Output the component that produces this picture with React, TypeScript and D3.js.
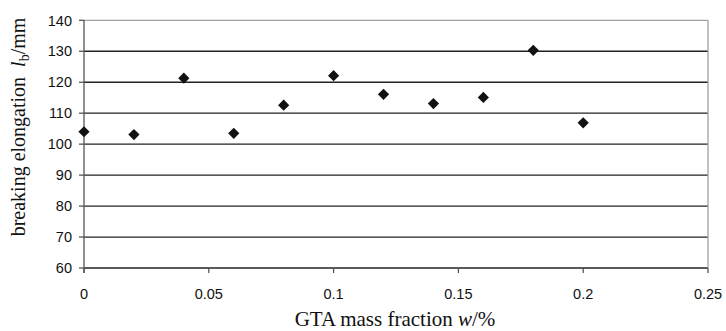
import React from "react";
import * as d3 from "d3";

const xValues = [0, 0.02, 0.04, 0.06, 0.08, 0.1, 0.12, 0.14, 0.16, 0.18, 0.2];
const yValues = [104, 103.1, 121.3, 103.5, 112.6, 122.1, 116.1, 113.1, 115.1, 130.3, 106.9];
const xTicks = [0, 0.05, 0.1, 0.15, 0.2, 0.25];
const yTicks = [60, 70, 80, 90, 100, 110, 120, 130, 140];

export default function App() {
  const W = 726, H = 331;
  const left = 84, right = 708, top = 20.3, bottom = 268;
  const x = d3.scaleLinear().domain([0, 0.25]).range([left, right]);
  const y = d3.scaleLinear().domain([60, 140]).range([bottom, top]);
  const r = 5.6;
  const diamond = `M0,${-r}L${r},0L0,${r}L${-r},0Z`;
  const tickFont = "'Liberation Sans', Arial, sans-serif";
  const titleFont = "'Liberation Serif', 'Times New Roman', serif";
  const fmt = (v: number) => String(v);
  return (
    <svg width={W} height={H} style={{ position: "absolute", left: 0, top: 0, background: "#fff" }}>
      {yTicks.map((t) => (
        <g key={"y" + t}>
          <line x1={left} x2={right} y1={y(t)} y2={y(t)}
            stroke={t === 140 ? "#a0a0a0" : "#222"} strokeWidth={1.3} />
          <line x1={left - 5} x2={left} y1={y(t)} y2={y(t)} stroke="#555" strokeWidth={1.3} />
          <text x={left - 12} y={y(t)} dy="0.36em" textAnchor="end" fontFamily={tickFont}
            fontSize={14.5} fill="#111">{t}</text>
        </g>
      ))}
      <line x1={right} x2={right} y1={top} y2={bottom} stroke="#a0a0a0" strokeWidth={1.3} />
      <line x1={left} x2={left} y1={top} y2={bottom + 5} stroke="#555" strokeWidth={1.3} />
      {xTicks.map((t) => (
        <g key={"x" + t}>
          <line x1={x(t)} x2={x(t)} y1={bottom} y2={bottom + 5} stroke="#555" strokeWidth={1.3} />
          <text x={x(t)} y={298.5} textAnchor="middle" fontFamily={tickFont}
            fontSize={14.5} fill="#111">{fmt(t)}</text>
        </g>
      ))}
      {xValues.map((v, i) => (
        <path key={"p" + i} d={diamond} transform={`translate(${x(v)},${y(yValues[i])})`} fill="#111" />
      ))}
      <text x={395} y={326} textAnchor="middle" fontFamily={titleFont} fontSize={21} fill="#111">
        GTA mass fraction <tspan fontStyle="italic">w</tspan>/%
      </text>
      <text transform="translate(25,127) rotate(-90)" textAnchor="middle" fontFamily={titleFont}
        fontSize={20} fill="#111" style={{ whiteSpace: "pre" }}>
        {"breaking elongation  "}<tspan fontStyle="italic">l</tspan>
        <tspan fontSize={14} dy="4">b</tspan><tspan dy="-4">/mm</tspan>
      </text>
    </svg>
  );
}
